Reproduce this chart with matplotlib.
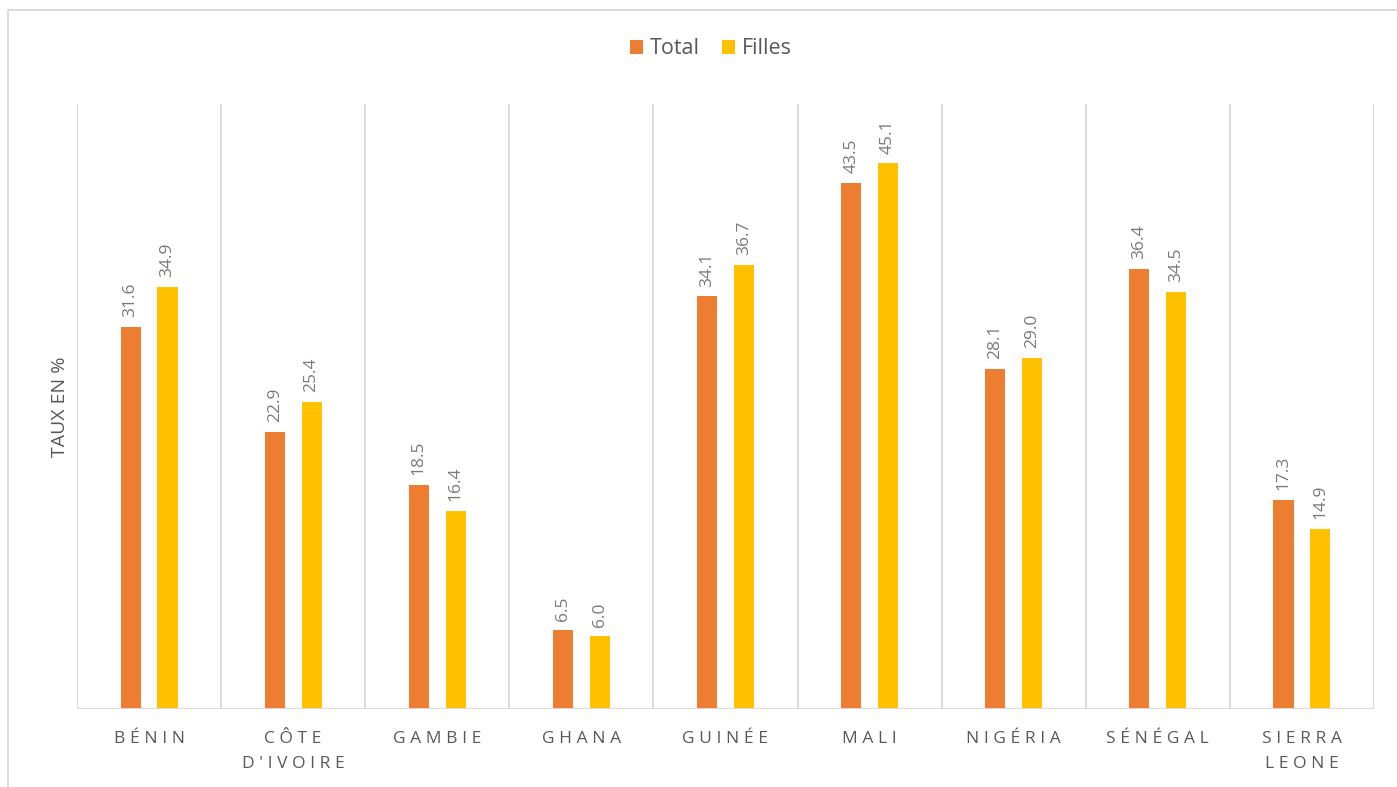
import matplotlib.pyplot as plt
import numpy as np
from matplotlib.patches import Rectangle

pays = ["BÉNIN", "CÔTE\nD'IVOIRE", "GAMBIE", "GHANA", "GUINÉE", "MALI",
        "NIGÉRIA", "SÉNÉGAL", "SIERRA\nLEONE"]
total = [31.6, 22.9, 18.5, 6.5, 34.1, 43.5, 28.1, 36.4, 17.3]
filles = [34.9, 25.4, 16.4, 6.0, 36.7, 45.1, 29.0, 34.5, 14.9]

c_total = '#ED7D31'
c_filles = '#FFC000'
gris = '#595959'
fam = ['Open Sans', 'DejaVu Sans']


def espacer(txt):
    # letter spacing, Excel style
    return '\n'.join('\u2009\u200a'.join(ligne) for ligne in txt.split('\n'))


fig = plt.figure(figsize=(13.97, 7.87), dpi=100)
W, H = 1397, 787
ax = fig.add_axes([77 / W, 1 - 709 / H, (1374 - 77) / W, (709 - 104) / H])

x = np.arange(len(pays))
w = 0.139
off = 0.128
b1 = ax.bar(x - off, total, w, color=c_total, label='Total', zorder=3)
b2 = ax.bar(x + off, filles, w, color=c_filles, label='Filles', zorder=3)

for bars, vals in ((b1, total), (b2, filles)):
    for r, v in zip(bars, vals):
        ax.annotate(f'{v:.1f}', (r.get_x() + r.get_width() / 2, v),
                    xytext=(0, 7), textcoords='offset points', rotation=90,
                    ha='center', va='bottom', fontsize=12.5, color='#7a7a7a',
                    family=fam)

ax.set_xlim(-0.5, len(pays) - 0.5)
ax.set_ylim(0, 50)
for b in np.arange(-0.5, len(pays), 1):
    ax.axvline(b, color='#d9d9d9', lw=1.3, zorder=1)

for s in ax.spines.values():
    s.set_visible(False)
ax.axhline(0, color='#d9d9d9', lw=1.5, zorder=4)
ax.set_yticks([])
ax.set_xticks(x)
ax.set_xticklabels([espacer(p) for p in pays], fontsize=12.5, color=gris,
                   family=fam, linespacing=1.7)
ax.tick_params(axis='x', length=0, pad=16)
ax.set_ylabel('TAUX EN %', fontsize=14, color=gris, family=fam, labelpad=6)

leg = ax.legend(loc='center', bbox_to_anchor=(711 / W, 1 - 49 / H), bbox_transform=fig.transFigure,
                ncol=2, frameon=False, fontsize=15.5, handlelength=0.6, handleheight=0.6,
                handletextpad=0.35, columnspacing=1.0)
for t in leg.get_texts():
    t.set_color(gris)
    t.set_family(fam)

fig.patches.append(Rectangle((8 / W, -0.01), 1.0, 1 - 10 / H + 0.01, transform=fig.transFigure,
                             fill=False, edgecolor='#d9d9d9', lw=1.3))

fig.savefig('out.png', dpi=100)
